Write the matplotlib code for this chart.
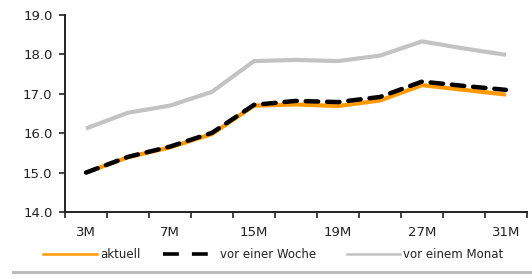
import matplotlib
matplotlib.use("Agg")
import matplotlib.pyplot as plt
from matplotlib.lines import Line2D

categories = ["3M", "5M", "7M", "11M", "15M", "17M", "19M", "23M", "27M", "29M", "31M"]
tick_labels = ["3M", "", "7M", "", "15M", "", "19M", "", "27M", "", "31M"]
aktuell = [15.0, 15.39, 15.64, 15.98, 16.70, 16.73, 16.69, 16.83, 17.22, 17.10, 16.98]
vor_einer_woche = [15.0, 15.40, 15.66, 16.01, 16.72, 16.82, 16.79, 16.92, 17.31, 17.20, 17.10]
vor_einem_monat = [16.12, 16.52, 16.70, 17.05, 17.83, 17.86, 17.83, 17.97, 18.33, 18.15, 17.99]
series_names = ["aktuell", "vor einer Woche", "vor einem Monat"]
yticks = [14.0, 15.0, 16.0, 17.0, 18.0, 19.0]

plt.rcParams['font.family'] = ['DejaVu Sans']

W, H = 532, 279
fig = plt.figure(figsize=(W / 100, H / 100), dpi=100)
ax = fig.add_axes([65 / W, 1 - 212 / H, (527 - 65) / W, (212 - 15) / H])

x = list(range(len(categories)))
orange = "#FF9900"
grey = "#C3C3C3"
txt = "#222222"
ax.plot(x, vor_einem_monat, color=grey, lw=3.0, solid_capstyle='butt', zorder=2)
ax.plot(x, aktuell, color=orange, lw=3.0, solid_capstyle='butt', zorder=3)
ax.plot(x, vor_einer_woche, color="black", lw=3.2, dashes=(2.8, 2.0),
        dash_capstyle='round', zorder=4)

ax.set_xlim(-0.5, len(categories) - 0.5)
ax.set_ylim(14.0, 19.0)

ax.set_yticks(yticks)
ax.set_yticklabels([f"{v:.1f}" for v in yticks])
ax.set_xticks([i - 0.5 for i in range(len(categories) + 1)])
ax.set_xticklabels([])
ax.set_xticks(x, minor=True)
ax.set_xticklabels(tick_labels, minor=True)
ax.tick_params(axis='x', which='minor', length=0, pad=10, labelsize=9.5, colors=txt)
ax.tick_params(axis='x', which='major', length=4, width=1.2, direction='out', color=txt)
ax.tick_params(axis='y', length=4, width=1.2, direction='out', pad=5, labelsize=9.5,
               color=txt, labelcolor=txt)

for s in ['top', 'right']:
    ax.spines[s].set_visible(False)
for s in ['left', 'bottom']:
    ax.spines[s].set_linewidth(1.4)
    ax.spines[s].set_color(txt)

# legend (manual placement)
ly = 1 - 254 / H
fig.add_artist(Line2D([43 / W, 97 / W], [ly, ly], color=orange, lw=1.8))
fig.text(100 / W, ly, series_names[0], fontsize=8.5, va='center', ha='left', color=txt)
fig.add_artist(Line2D([163 / W, 212 / W], [ly, ly], color='black', lw=2.6,
                      dashes=(4.4, 3.6)))
fig.text(220 / W, ly, series_names[1], fontsize=8.5, va='center', ha='left', color=txt)
fig.add_artist(Line2D([347 / W, 400 / W], [ly, ly], color=grey, lw=1.8))
fig.text(403 / W, ly, series_names[2], fontsize=8.5, va='center', ha='left', color=txt)

# bottom separator line
by = 1 - 272 / H
fig.add_artist(Line2D([13 / W, 1.0], [by, by], color='#BDBDBD', lw=2.2))

fig.savefig("out.png", dpi=100)
